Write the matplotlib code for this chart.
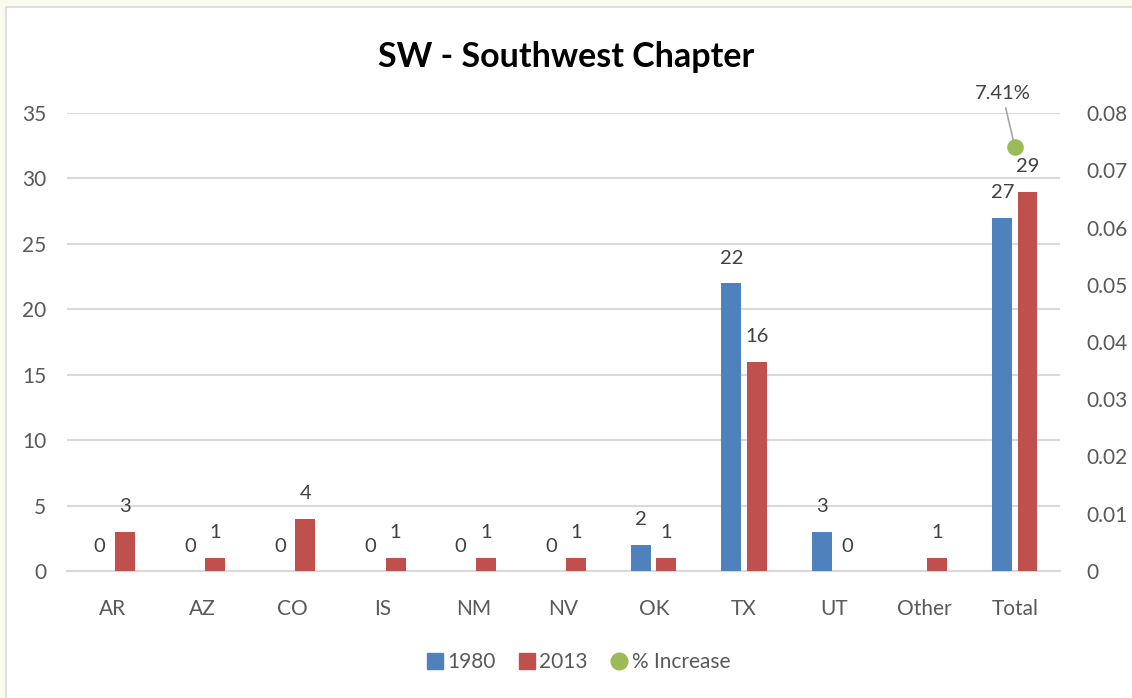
import numpy as np
import matplotlib
matplotlib.use("Agg")
import matplotlib.pyplot as plt
from matplotlib.patches import Rectangle
from matplotlib.lines import Line2D

# ── Data ─────────────────────────────────────────────────────────
categories = ["AR", "AZ", "CO", "IS", "NM", "NV", "OK", "TX", "UT", "Other", "Total"]
vals_1980  = [0, 0, 0, 0, 0, 0, 2, 22, 3, None, 27]
vals_2013  = [3, 1, 4, 1, 1, 1, 1, 16, 0, 1, 29]
pct_increase = 0.0741
pct_label    = "7.41%"

BLUE  = "#4F81BD"
RED   = "#C0504D"
GREEN = "#9BBB59"
TXT   = "#595959"
GRID  = "#D9D9D9"

plt.rcParams["font.family"] = ["Lato", "DejaVu Sans"]

fig = plt.figure(figsize=(11.32, 6.98), dpi=100)
fig.patch.set_facecolor("#FAFAEE")
# white chart area with light border
fig.patches.append(Rectangle((6 / 1132, -0.01), 1.1, 1 - 7 / 698 + 0.01,
                             transform=fig.transFigure, facecolor="white",
                             edgecolor="#D9D9D9", lw=1.2, zorder=-10))

ax = fig.add_axes([67 / 1132, 1 - 571 / 698, (1060 - 67) / 1132, (571 - 113) / 698])
ax.set_facecolor("none")
ax2 = ax.twinx()

x = np.arange(len(categories))
w = 0.22
off = 0.14

b1_vals = [v if v is not None else 0 for v in vals_1980]
ax.bar(x - off, b1_vals, width=w, color=BLUE, zorder=3)
ax.bar(x + off, vals_2013, width=w, color=RED, zorder=3)

for xi, v in zip(x, vals_1980):
    if v is None:
        continue
    ax.annotate(str(v), (xi - off, v), xytext=(0, 18), textcoords="offset points",
                ha="center", va="center", fontsize=14.5, color="#404040")
for xi, v in zip(x, vals_2013):
    ax.annotate(str(v), (xi + off, v), xytext=(0, 18), textcoords="offset points",
                ha="center", va="center", fontsize=14.5, color="#404040")

ax.set_ylim(0, 35)
ax.set_yticks(range(0, 36, 5))
ax.set_xlim(-0.5, len(categories) - 0.5)
ax.set_xticks(x)
ax.set_xticklabels(categories)
ax.yaxis.grid(True, color=GRID, lw=1.5, zorder=0)
ax.set_axisbelow(True)

ax2.set_ylim(0, 0.08)
ax2.set_yticks(np.arange(0, 0.081, 0.01))
ax2.set_yticklabels(["0"] + [f"{t:.2f}" for t in np.arange(0.01, 0.081, 0.01)])
ax2.scatter([x[-1]], [pct_increase], s=120, color=GREEN, zorder=5)
ax2.annotate(pct_label, (x[-1], pct_increase), xytext=(-9, 32), textcoords="offset points",
             ha="center", va="bottom", fontsize=14.5, color="#404040",
             arrowprops=dict(arrowstyle="-", color="#A6A6A6", lw=1.2,
                             shrinkA=2, shrinkB=0))

for a in (ax, ax2):
    for s in a.spines.values():
        s.set_visible(False)
    a.tick_params(length=0, labelsize=15, colors=TXT)
ax.spines["bottom"].set_visible(True)
ax.spines["bottom"].set_color(GRID)
ax.spines["bottom"].set_linewidth(1.5)
ax.tick_params(axis="x", pad=20)
ax.tick_params(axis="y", pad=15)
ax2.tick_params(axis="y", pad=19)

fig.text(0.5, 1 - 57 / 698, "SW - Southwest Chapter", ha="center", va="center",
         fontsize=24.5, fontweight="bold", color="black")

handles = [
    Line2D([], [], marker="s", color=BLUE, ls="", markersize=12),
    Line2D([], [], marker="s", color=RED, ls="", markersize=12),
    Line2D([], [], marker="o", color=GREEN, ls="", markersize=12),
]
leg = fig.legend(handles, ["1980", "2013", "% Increase"], loc="center",
                 bbox_to_anchor=(0.51, 1 - 662 / 698), ncol=3, frameon=False,
                 fontsize=15, handletextpad=0.1, columnspacing=1.0, handlelength=1.0)
for t in leg.get_texts():
    t.set_color(TXT)

plt.savefig("out.png", dpi=100, facecolor=fig.get_facecolor())
